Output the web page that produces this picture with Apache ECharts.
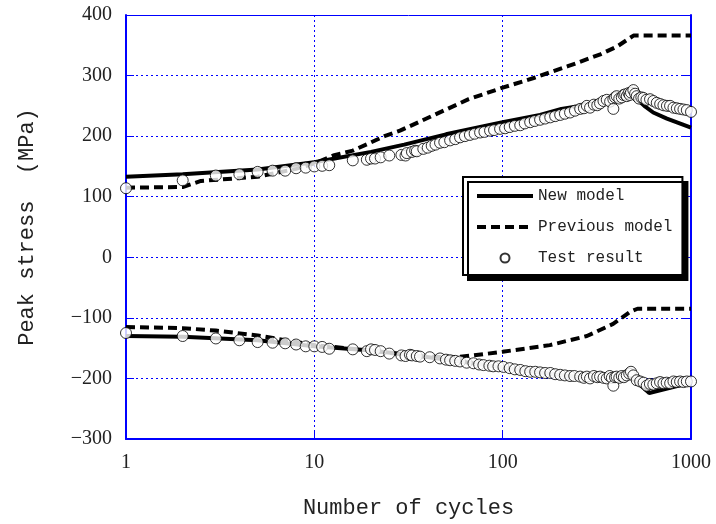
<!DOCTYPE html>
<html>
<head>
<meta charset="utf-8">
<script src="https://cdn.jsdelivr.net/npm/echarts@6/dist/echarts.min.js"></script>
<style>
  html, body { margin: 0; padding: 0; background: #fff; }
  #chart { width: 716px; height: 524px; }
</style>
</head>
<body>
<div id="chart"></div>
<script>
// [cycles, stress MPa]
const newModelUpper = [[1,133],[2,137],[5,145],[10,157],[20,174],[30,186],[50,203],[100,223],[158,235],[205,245],[300,253],[480,270],[565,250],[630,239],[745,229],[1000,214]];
const newModelLower = [[1,-130],[2,-131],[5,-137],[10,-147],[20,-154],[36,-163],[60,-172],[100,-182],[220,-196],[300,-199],[400,-200],[475,-196],[600,-224],[1000,-207]];
const prevModelUpper = [[1,115],[2,116],[2.5,126],[5,133],[8,146],[10,155],[12.6,168],[16,176],[24,201],[28.5,209],[44,236],[66,261],[100,280],[146,296],[220,315],[330,335],[405,348],[495,366],[1000,366]];
const prevModelLower = [[1,-115],[2,-117],[3,-121],[5,-129],[10,-145],[20,-154],[36,-164],[55,-165],[70,-162],[100,-156],[178,-145],[280,-130],[386,-110],[475,-90],[520,-85],[1000,-85]];
const testUpper = [[1,114],[2,127],[3,135],[4,137],[5,141],[6,143],[7,143],[8,147],[9,148],[10,150],[11,151],[12,152],[16,160],[19,161],[20,163],[21,163],[22.5,165],[25,168],[29,169],[30.5,168],[31,172],[33,174],[34.3,176],[35,175],[37.9,179],[40,181],[42,184],[44,186],[46.5,189],[49,190],[52.6,193],[56,195],[59.4,198],[63,200],[67,202],[71,204],[75.9,206],[80,207],[85.7,209],[90,210],[96.9,212],[103,213],[109,215],[116,217],[124,218],[131,221],[140,223],[148,225],[158,227],[168,229],[179,231],[190,233],[202,235],[214,237],[228,239],[242,242],[258,245],[270,246],[280,250],[291,247],[305,252],[318,251],[329,254],[343,258],[357,260],[372,257],[387,261],[387,245],[395,264],[403,266],[416,262],[429,264],[438,268],[447,269],[456,266],[466,271],[473,268],[480,272],[494,276],[505,270],[515,266],[530,262],[545,264],[559,263],[580,260],[606,261],[631,258],[658,255],[686,253],[714,251],[745,250],[774,250],[807,247],[841,246],[875,245],[912,244],[950,243],[1000,240]];
const testLower = [[1,-125],[2,-130],[3,-134],[4,-137],[5,-140],[6,-141],[7,-142],[8,-144],[9,-147],[10,-147],[11,-148],[12,-151],[16,-152],[19,-155],[20,-152],[21,-153],[22.5,-155],[25,-159],[29,-162],[30.5,-163],[32.2,-161],[33,-162],[35,-163],[36.4,-164],[41,-165],[46.5,-167],[50,-169],[52.6,-170],[56,-171],[59.4,-172],[64.4,-174],[70,-175],[75,-177],[79,-178],[85,-179],[89,-180],[95,-180],[101,-181],[109,-183],[116,-185],[124,-186],[132,-188],[140,-189],[149,-189],[158,-190],[168,-191],[179,-191],[190,-193],[202,-194],[214,-195],[228,-196],[240,-196],[258,-197],[270,-199],[280,-197],[291,-200],[305,-196],[318,-198],[329,-197],[343,-199],[357,-200],[370,-196],[380,-199],[387,-212],[395,-198],[403,-197],[416,-199],[429,-196],[440,-198],[456,-195],[470,-192],[480,-189],[494,-195],[515,-203],[537,-205],[560,-207],[582,-212],[605,-209],[631,-210],[658,-208],[685,-206],[714,-208],[743,-207],[775,-208],[807,-205],[840,-206],[875,-205],[912,-206],[950,-205],[1000,-205]];

const blue = '#0000ff';
const gridLine = { show: true, lineStyle: { color: blue, width: 1, type: [2, 3] } };
const labelFont = { fontFamily: 'Liberation Serif', fontSize: 20, color: '#222' };
const titleFont = { fontFamily: 'Liberation Mono', fontSize: 22, color: '#222' };

function modelLine(name, data, dashed) {
  return {
    name: name, type: 'line', data: data, symbol: 'none', z: 3,
    itemStyle: { color: '#000' },
    lineStyle: { color: '#000', width: 4, type: dashed ? [9, 5] : 'solid' }
  };
}
function testPoints(data) {
  return {
    name: 'Test result', type: 'scatter', data: data, symbol: 'circle', symbolSize: 11, z: 4,
    itemStyle: { color: '#fff', borderColor: '#000', borderWidth: 1 }
  };
}

const chart = echarts.init(document.getElementById('chart'));
chart.setOption({
  animation: false,
  grid: { left: 126, right: 25, top: 15, bottom: 81 },
  legend: {
    orient: 'vertical', left: 463, top: 177,
    padding: [11, 10, 9, 12], itemGap: 15, itemWidth: 56, itemHeight: 9,
    backgroundColor: '#fff', borderColor: '#000', borderWidth: 2,
    shadowColor: '#000', shadowBlur: 0, shadowOffsetX: 5, shadowOffsetY: 5,
    lineStyle: { width: 4 },
    textStyle: { fontFamily: 'Liberation Mono', fontSize: 16, color: '#222' },
    data: [
      { name: 'New model', itemStyle: { opacity: 0 } },
      { name: 'Previous model', itemStyle: { opacity: 0 } },
      { name: 'Test result' }
    ]
  },
  xAxis: [{
    type: 'log', logBase: 10, min: 1, max: 1000,
    name: 'Number of cycles', nameLocation: 'middle', nameGap: 58, nameTextStyle: titleFont,
    axisLine: { show: true, onZero: false, lineStyle: { color: blue, width: 2 } },
    axisTick: { show: true, inside: true, length: 8, lineStyle: { color: blue } },
    minorTick: { show: false },
    axisLabel: Object.assign({ margin: 14, formatter: function (v) { return String(Math.round(v)); } }, labelFont),
    splitLine: gridLine
  }, {
    type: 'log', logBase: 10, min: 1, max: 1000, position: 'top',
    axisLine: { show: true, onZero: false, lineStyle: { color: blue, width: 1 } },
    axisTick: { show: false }, axisLabel: { show: false }, splitLine: { show: false }
  }],
  yAxis: [{
    type: 'value', min: -300, max: 400, interval: 100,
    name: 'Peak stress  (MPa)', nameLocation: 'middle', nameGap: 88, nameTextStyle: titleFont,
    axisLine: { show: true, onZero: false, lineStyle: { color: blue, width: 2 } },
    axisTick: { show: true, inside: true, length: 8, lineStyle: { color: blue } },
    axisLabel: Object.assign({ margin: 14, formatter: function (v) { return String(v).replace('-', '\u2212'); } }, labelFont),
    splitLine: gridLine
  }, {
    type: 'value', min: -300, max: 400, interval: 100, position: 'right',
    axisLine: { show: true, onZero: false, lineStyle: { color: blue, width: 2 } },
    axisTick: { show: true, inside: true, length: 8, lineStyle: { color: blue } },
    axisLabel: { show: false }, splitLine: { show: false }
  }],
  series: [
    modelLine('New model', newModelUpper, false),
    modelLine('New model', newModelLower, false),
    modelLine('Previous model', prevModelUpper, true),
    modelLine('Previous model', prevModelLower, true),
    testPoints(testUpper),
    testPoints(testLower)
  ]
});
window.addEventListener('resize', function () { chart.resize(); });
</script>
</body>
</html>
